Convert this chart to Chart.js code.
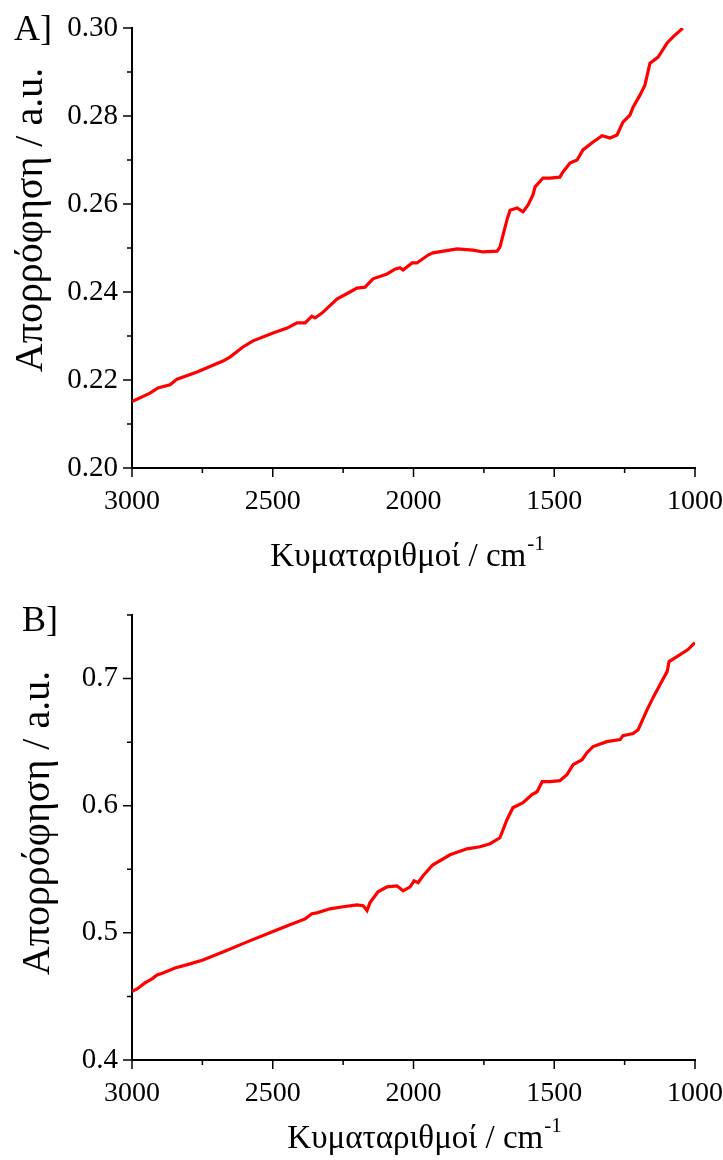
<!DOCTYPE html>
<html>
<head>
<meta charset="utf-8">
<script src="https://cdn.jsdelivr.net/npm/chart.js@4.4.1/dist/chart.umd.min.js"></script>
<style>
  body { margin: 0; background: #fff; }
  #wrap { position: relative; width: 723px; height: 1160px; }
  canvas { position: absolute; left: 0; }
</style>
</head>
<body>
<div id="wrap">
  <canvas id="chartA" width="723" height="580" style="top:0"></canvas>
  <canvas id="chartB" width="723" height="580" style="top:580px"></canvas>
</div>
<script>
// panel A
const wavenumbersA = [3000, 2936, 2908, 2865, 2840, 2769, 2677, 2652, 2606, 2570, 2499, 2449, 2414, 2385, 2361, 2350, 2325, 2272, 2226, 2201, 2172, 2144, 2094, 2066, 2048, 2037, 2005, 1988, 1948, 1931, 1845, 1789, 1753, 1703, 1693, 1668, 1657, 1632, 1611, 1593, 1576, 1568, 1540, 1515, 1480, 1469, 1444, 1419, 1398, 1362, 1330, 1302, 1277, 1256, 1231, 1220, 1195, 1178, 1160, 1131, 1099, 1078, 1043];
const absorbanceA = [0.2151, 0.2170, 0.2182, 0.2189, 0.2202, 0.2218, 0.2243, 0.2252, 0.2275, 0.2289, 0.2307, 0.2318, 0.2330, 0.2330, 0.2345, 0.2341, 0.2352, 0.2384, 0.2400, 0.2409, 0.2411, 0.2430, 0.2441, 0.2452, 0.2455, 0.2450, 0.2466, 0.2466, 0.2484, 0.2489, 0.2498, 0.2495, 0.2491, 0.2493, 0.2502, 0.2564, 0.2586, 0.2591, 0.2582, 0.2598, 0.2620, 0.2639, 0.2659, 0.2659, 0.2661, 0.2673, 0.2693, 0.2700, 0.2723, 0.2741, 0.2755, 0.2750, 0.2757, 0.2786, 0.2802, 0.2820, 0.2848, 0.2870, 0.2920, 0.2934, 0.2966, 0.2980, 0.3000];

// panel B
const wavenumbersB = [3000, 2982, 2954, 2929, 2911, 2890, 2847, 2794, 2748, 2677, 2591, 2510, 2439, 2385, 2361, 2343, 2297, 2250, 2201, 2179, 2165, 2155, 2126, 2094, 2059, 2037, 2012, 1998, 1984, 1966, 1941, 1931, 1870, 1810, 1764, 1728, 1693, 1668, 1647, 1611, 1579, 1561, 1543, 1515, 1480, 1455, 1433, 1401, 1384, 1362, 1313, 1266, 1256, 1220, 1202, 1170, 1149, 1124, 1099, 1092, 1064, 1025, 1000];
const absorbanceB = [0.4540, 0.4559, 0.4606, 0.4638, 0.4669, 0.4685, 0.4724, 0.4756, 0.4787, 0.4850, 0.4929, 0.5000, 0.5063, 0.5110, 0.5150, 0.5157, 0.5189, 0.5205, 0.5220, 0.5213, 0.5175, 0.5236, 0.5323, 0.5362, 0.5370, 0.5331, 0.5362, 0.5409, 0.5394, 0.5449, 0.5512, 0.5535, 0.5614, 0.5661, 0.5677, 0.5701, 0.5748, 0.5890, 0.5984, 0.6024, 0.6087, 0.6110, 0.6189, 0.6189, 0.6197, 0.6244, 0.6323, 0.6362, 0.6417, 0.6465, 0.6504, 0.6520, 0.6551, 0.6567, 0.6598, 0.6756, 0.6850, 0.6953, 0.7055, 0.7134, 0.7173, 0.7228, 0.7283];

// ticks
const xTicks = [3000, 2500, 2000, 1500, 1000];
const xMinorTicks = [2750, 2250, 1750, 1250];
const yTicksA = [0.20, 0.22, 0.24, 0.26, 0.28, 0.30];
const yMinorTicksA = [0.21, 0.23, 0.25, 0.27, 0.29];
const yTicksB = [0.4, 0.5, 0.6, 0.7];
const yMinorTicksB = [0.45, 0.55, 0.65, 0.75];

const xTitle = "Κυματαριθμοί / cm";
const yTitle = "Απορρόφηση / a.u.";

const SERIF = "'Liberation Serif', 'Times New Roman', serif";

// draws tick marks (long for major, short for minor), axis titles and panel letter
const axisDecor = {
  id: "axisDecor",
  afterDraw(chart, args, opts) {
    const { ctx, chartArea } = chart;
    const xs = chart.scales.x, ys = chart.scales.y;
    ctx.save();
    ctx.strokeStyle = "#000";
    ctx.lineWidth = 1.5;
    ctx.beginPath();
    xTicks.forEach(v => { const p = xs.getPixelForValue(v); ctx.moveTo(p, chartArea.bottom); ctx.lineTo(p, chartArea.bottom + 9); });
    xMinorTicks.forEach(v => { const p = xs.getPixelForValue(v); ctx.moveTo(p, chartArea.bottom); ctx.lineTo(p, chartArea.bottom + 5); });
    opts.yMajor.forEach(v => { const p = ys.getPixelForValue(v); ctx.moveTo(chartArea.left, p); ctx.lineTo(chartArea.left - 9, p); });
    opts.yMinor.forEach(v => { const p = ys.getPixelForValue(v); ctx.moveTo(chartArea.left, p); ctx.lineTo(chartArea.left - 5, p); });
    ctx.stroke();

    ctx.fillStyle = "#000";
    // x title with superscript
    ctx.font = "33px " + SERIF;
    ctx.textBaseline = "alphabetic";
    ctx.textAlign = "left";
    const supFont = "21px " + SERIF;
    const w1 = ctx.measureText(xTitle).width;
    ctx.font = supFont;
    const w2 = ctx.measureText("-1").width;
    let x0 = opts.xTitleCenter - (w1 + w2) / 2;
    ctx.font = "33px " + SERIF;
    ctx.fillText(xTitle, x0, opts.xTitleBase);
    ctx.font = supFont;
    ctx.fillText("-1", x0 + w1 + 1, opts.xTitleBase - 16);

    // y title rotated
    ctx.save();
    ctx.translate(opts.yTitleX, opts.yTitleCenter);
    ctx.rotate(-Math.PI / 2);
    ctx.font = "40px " + SERIF;
    ctx.textAlign = "center";
    ctx.textBaseline = "middle";
    ctx.fillText(yTitle, 0, 0);
    ctx.restore();

    // panel letter
    ctx.font = "36px " + SERIF;
    ctx.textAlign = "left";
    ctx.fillText(opts.letter, opts.letterX, opts.letterY);
    ctx.restore();
  }
};

function makeChart(id, xs, ys, yMin, yMax, yMajor, yMinor, decor, top, bottom) {
  const H = 580;
  return new Chart(document.getElementById(id), {
    type: "line",
    data: {
      datasets: [{
        data: xs.map((w, i) => ({ x: w, y: ys[i] })),
        borderColor: "#ff0000",
        borderWidth: 3.2,
        pointRadius: 0,
        tension: 0,
        fill: false
      }]
    },
    options: {
      responsive: false,
      animation: false,
      layout: { padding: { top: top, right: 28, left: 0, bottom: 0 } },
      plugins: { legend: { display: false }, tooltip: { enabled: false }, axisDecor: decor },
      scales: {
        x: {
          type: "linear",
          reverse: true,
          min: 1000,
          max: 3000,
          grid: { display: false },
          border: { display: true, color: "#000", width: 2 },
          afterBuildTicks: s => { s.ticks = xTicks.map(v => ({ value: v })); },
          afterFit: s => { s.height = H - bottom; s.paddingLeft = 0; s.paddingRight = 0; },
          ticks: { color: "#000", font: { family: SERIF, size: 28 }, padding: 9, maxRotation: 0, autoSkip: false,
                   callback: v => String(v) }
        },
        y: {
          min: yMin,
          max: yMax,
          grid: { display: false },
          border: { display: true, color: "#000", width: 2 },
          afterBuildTicks: s => { s.ticks = yMajor.map(v => ({ value: v })); },
          afterFit: s => { s.width = 132; s.paddingTop = 0; s.paddingBottom = 0; },
          ticks: { color: "#000", font: { family: SERIF, size: 29 }, padding: 6, autoSkip: false,
                   callback: v => yMax < 0.5 ? v.toFixed(2) : v.toFixed(1) }
        }
      }
    },
    plugins: [axisDecor]
  });
}

makeChart("chartA", wavenumbersA, absorbanceA, 0.20, 0.30, yTicksA, yMinorTicksA,
  { yMajor: yTicksA, yMinor: yMinorTicksA, xTitleCenter: 407, xTitleBase: 566, yTitleX: 31, yTitleCenter: 220,
    letter: "A]", letterX: 14, letterY: 40 }, 28, 468);

makeChart("chartB", wavenumbersB, absorbanceB, 0.4, 0.75, yTicksB, yMinorTicksB,
  { yMajor: yTicksB, yMinor: yMinorTicksB, xTitleCenter: 424, xTitleBase: 568, yTitleX: 38, yTitleCenter: 243,
    letter: "B]", letterX: 22, letterY: 51 }, 35, 480);
</script>
</body>
</html>
